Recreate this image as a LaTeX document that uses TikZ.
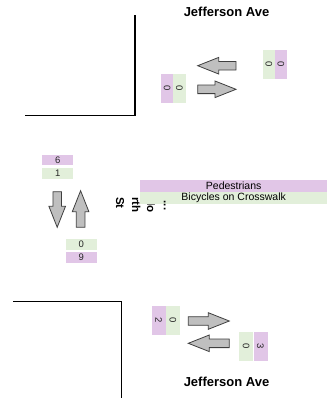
\documentclass[tikz,border=0pt]{standalone}
\usepackage{fontspec}
\setmainfont{Liberation Sans}
\usetikzlibrary{positioning}
\definecolor{pedpurple}{HTML}{E1C6E7}
\definecolor{bikegreen}{HTML}{E2EFDA}
\definecolor{arrowgray}{HTML}{BFBFBF}
\definecolor{arrowedge}{HTML}{3F3F3F}

\begin{document}
\begin{tikzpicture}[x=1pt, y=-1pt,
    curb/.style={line width=1.5pt},
    street/.style={font=\bfseries\fontsize{13}{15}\selectfont, inner sep=0pt},
    sidestreet/.style={font=\bfseries\fontsize{11.5}{13}\selectfont, rotate=-90, anchor=base west, inner sep=0pt},
    cnt/.style={font=\fontsize{9.5}{11}\selectfont, inner sep=0pt, text=black!85},
    ped/.style={cnt, fill=pedpurple},
    bike/.style={cnt, fill=bikegreen},
    stack/.style={minimum width=31pt, minimum height=10.5pt},
    pair/.style={rotate=-90, minimum width=29pt, minimum height=12.5pt},
    legend/.style={font=\fontsize{10.5}{12}\selectfont, inner sep=0pt, minimum width=187pt, minimum height=11.7pt},
    pics/flow/.style={code={
        \draw[fill=arrowgray, draw=arrowedge, line width=0.8pt, line join=miter]
            (0,-4.3) -- ({#1-21},-4.3) -- ({#1-21},-8.3) -- (#1,0)
            -- ({#1-21},8.3) -- ({#1-21},4.3) -- (0,4.3) -- cycle;
    }},
]
\useasboundingbox (0,0) rectangle (327,400);

% corners of the intersection
\draw[curb] (135,15) -- (135,115.5) -- (25,115.5);
\draw[curb] (13,301.7) -- (121.7,301.7) -- (121.7,398);

% street names
\node[street] (jtop) at (226.5,12) {Jefferson Ave};
\node[street] (jbot) at (226.5,381.5) {Jefferson Ave};
\node[sidestreet] (side2) at (147,197) {No};
\node[sidestreet] (side3) at (132,197) {rth};
\node[sidestreet] (side4) at (116,197) {St};

% legend
\node[legend, fill=pedpurple, anchor=west] (peds) at (140,185.85) {Pedestrians};
\node[legend, fill=bikegreen, below=0pt of peds] (bikes) {Bicycles on Crosswalk};
\node[sidestreet] (side1) at (164,200.5) {...};

% north leg
\pic[rotate=180] (nwest) at (236,65.7) {flow=38.3};
\pic (neast) at (197.7,89.3) {flow=38.3};
\node[ped, pair] (ninped) at (167.2,88.4) {0};
\node[bike, pair] (ninbike) at (179.5,88.4) {0};
\node[bike, pair] (noutbike) at (269,64.5) {0};
\node[ped, pair] (noutped) at (281,64.5) {0};

% west leg
\node[ped, stack] (wped) at (57.8,160) {6};
\node[bike, stack, below=2.8pt of wped] (wbike) {1};
\pic[rotate=-90] (wsouth) at (57.2,191.7) {flow=35.6};
\pic[rotate=90] (wnorth) at (80.6,227.3) {flow=36.6};
\node[bike, stack] (ebike) at (81.3,244.5) {0};
\node[ped, stack, below=2.3pt of ebike] (eped) {9};

% south leg
\pic (seast) at (188.3,321) {flow=41};
\pic[rotate=180] (swest) at (229.3,343.3) {flow=41};
\node[ped, pair, minimum height=14pt] (sinped) at (158.7,320) {2};
\node[bike, pair, minimum height=14pt] (sinbike) at (172.9,320) {0};
\node[bike, pair, minimum height=14pt] (soutbike) at (246.2,346.2) {0};
\node[ped, pair, minimum height=14pt] (soutped) at (260.5,346.2) {3};
\end{tikzpicture}
\end{document}
